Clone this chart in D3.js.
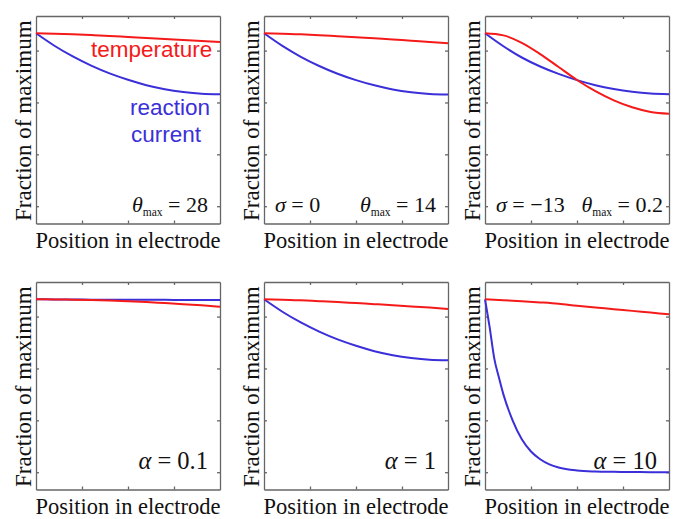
<!DOCTYPE html>
<html>
<head>
<meta charset="utf-8">
<script src="https://cdn.jsdelivr.net/npm/d3@7"></script>
<style>
  body { margin: 0; background: #fff; }
  .frame path, .frame line { stroke: #666; stroke-width: 1.3; }
</style>
</head>
<body>
<svg></svg>
<script>
// positions along the electrode (fraction of thickness)
var position = [0, 0.1, 0.2, 0.3, 0.4, 0.5, 0.6, 0.7, 0.8, 0.9, 1];
var positionFine = [0, 0.025, 0.05, 0.075, 0.1, 0.15, 0.2, 0.25, 0.3, 0.35, 0.4, 0.5, 0.6, 0.7, 0.8, 0.9, 1];

// fraction of maximum
var temperature1 = [1, 0.998, 0.995, 0.99, 0.985, 0.979, 0.973, 0.967, 0.961, 0.955, 0.949];
var current1     = [1, 0.928, 0.866, 0.813, 0.768, 0.731, 0.70, 0.677, 0.661, 0.651, 0.648];
var temperature2 = [1, 0.998, 0.994, 0.989, 0.983, 0.977, 0.971, 0.964, 0.957, 0.95, 0.942];
var current2     = [1, 0.927, 0.864, 0.811, 0.766, 0.729, 0.699, 0.675, 0.659, 0.649, 0.646];
var temperature3 = [1, 0.988, 0.945, 0.88, 0.805, 0.73, 0.665, 0.612, 0.572, 0.545, 0.535];
var current3     = [1, 0.925, 0.86, 0.808, 0.765, 0.729, 0.70, 0.678, 0.662, 0.652, 0.648];
var temperature4 = [1, 0.9995, 0.998, 0.996, 0.993, 0.989, 0.984, 0.978, 0.972, 0.965, 0.957];
var current4     = [1, 0.999, 0.999, 0.998, 0.998, 0.997, 0.997, 0.997, 0.996, 0.996, 0.996];
var temperature5 = [1, 0.998, 0.994, 0.989, 0.984, 0.978, 0.972, 0.966, 0.959, 0.952, 0.944];
var current5     = [1, 0.928, 0.866, 0.813, 0.768, 0.731, 0.70, 0.677, 0.661, 0.651, 0.648];
var temperature6 = [1, 0.995, 0.989, 0.982, 0.974, 0.963, 0.953, 0.943, 0.933, 0.923, 0.913];
var current6     = [1, 0.84, 0.66, 0.55, 0.45, 0.30, 0.19, 0.12, 0.075, 0.045, 0.027, 0.01, 0.004, 0.002, 0.001, 0, 0];

var yTicks = [0, 0.3, 0.6, 0.9];
var xTicks = [0.25, 0.5, 0.75];

// annotation text, one list per panel: [text, italic, subscript]
var notes = [
  { right: [["θ", 1], ["max", 0, 1], [" = 28"]] },
  { left: [["σ", 1], [" = 0"]], right: [["θ", 1], ["max", 0, 1], [" = 14"]] },
  { left: [["σ", 1], [" = −13"]], right: [["θ", 1], ["max", 0, 1], [" = 0.2"]] },
  { right: [["α", 1], [" = 0.1"]] },
  { right: [["α", 1], [" = 1"]] },
  { right: [["α", 1], [" = 10"]] }
];

var panels = [
  { tx: position, temp: temperature1, cx: position, cur: current1 },
  { tx: position, temp: temperature2, cx: position, cur: current2 },
  { tx: position, temp: temperature3, cx: position, cur: current3 },
  { tx: position, temp: temperature4, cx: position, cur: current4 },
  { tx: position, temp: temperature5, cx: position, cur: current5 },
  { tx: position, temp: temperature6, cx: positionFine, cur: current6 }
];

var width = 675, height = 519;
var colLeft = [36, 264, 485];
var rowTop = [16, 282];
var noteLift = [12, 21];
var noteSize = [22, 24.5];
var w = 184, h = 207.5;
var red = "#f51a1a", blue = "#3a2fd8";
var serif = "'Liberation Serif', 'Times New Roman', serif";
var sans = "'Liberation Sans', Arial, sans-serif";

var svg = d3.select("svg").attr("width", width).attr("height", height);

var x = d3.scaleLinear().domain([0, 1]).range([0, w]);
var y = d3.scaleLinear().domain([-0.1, 1.1]).range([h, 0]);

var line = d3.line()
  .x(d => x(d[0]))
  .y(d => y(d[1]))
  .curve(d3.curveMonotoneX);

panels.forEach(function(p, i) {
  var row = Math.floor(i / 3);
  var g = svg.append("g")
    .attr("transform", "translate(" + colLeft[i % 3] + "," + rowTop[row] + ")");

  // frame with inward ticks on all four sides
  g.append("g").attr("class", "frame")
    .call(d3.axisLeft(y).tickValues(yTicks).tickSize(-3).tickSizeOuter(0).tickFormat(""));
  g.append("g").attr("class", "frame").attr("transform", "translate(" + w + ",0)")
    .call(d3.axisRight(y).tickValues(yTicks).tickSize(-3).tickSizeOuter(0).tickFormat(""));
  g.append("g").attr("class", "frame")
    .call(d3.axisTop(x).tickValues(xTicks).tickSize(-3).tickSizeOuter(0).tickFormat(""));
  g.append("g").attr("class", "frame").attr("transform", "translate(0," + h + ")")
    .call(d3.axisBottom(x).tickValues(xTicks).tickSize(-3).tickSizeOuter(0).tickFormat(""));

  g.append("path")
    .attr("d", line(d3.zip(p.cx, p.cur)))
    .attr("fill", "none").attr("stroke", blue).attr("stroke-width", 2);
  g.append("path")
    .attr("d", line(d3.zip(p.tx, p.temp)))
    .attr("fill", "none").attr("stroke", red).attr("stroke-width", 2);

  g.append("text")
    .attr("transform", "translate(-5," + (h / 2 + 1) + ") rotate(-90)")
    .attr("text-anchor", "middle")
    .attr("font-family", serif).attr("font-size", 23).attr("fill", "#111")
    .text("Fraction of maximum");

  g.append("text")
    .attr("x", w / 2).attr("y", h + 24)
    .attr("text-anchor", "middle")
    .attr("font-family", serif).attr("font-size", 22.5).attr("fill", "#111")
    .text("Position in electrode");

  var n = notes[i];
  var ny = h - noteLift[row];
  if (n.left) mathText(g, n.left, 11, ny, "start", noteSize[row]);
  if (n.right) mathText(g, n.right, i === 2 ? w - 6 : w - 12, ny, "end", noteSize[row]);
});

function mathText(g, parts, tx, ty, anchor, size) {
  var t = g.append("text")
    .attr("x", tx).attr("y", ty)
    .attr("text-anchor", anchor)
    .attr("font-family", serif).attr("font-size", size).attr("fill", "#111")
    .style("white-space", "pre");
  var shifted = false;
  parts.forEach(function(s) {
    var span = t.append("tspan").text(s[0]);
    if (s[1]) span.attr("font-style", "italic");
    if (s[2]) {
      span.attr("font-size", 11.5).attr("dy", 4);
      shifted = true;
    } else if (shifted) {
      span.attr("dy", -4);
      shifted = false;
    }
  });
}

// legend words in the first panel
var g0 = svg.append("g").attr("transform", "translate(" + colLeft[0] + "," + rowTop[0] + ")");
g0.append("text").attr("x", 55).attr("y", 41)
  .attr("font-family", sans).attr("font-size", 22.5)
  .attr("fill", red).text("temperature");
g0.append("text").attr("x", 94).attr("y", 99)
  .attr("font-family", sans).attr("font-size", 22.5)
  .attr("fill", blue).text("reaction");
g0.append("text").attr("x", 95).attr("y", 126)
  .attr("font-family", sans).attr("font-size", 22.5)
  .attr("fill", blue).text("current");
</script>
</body>
</html>
